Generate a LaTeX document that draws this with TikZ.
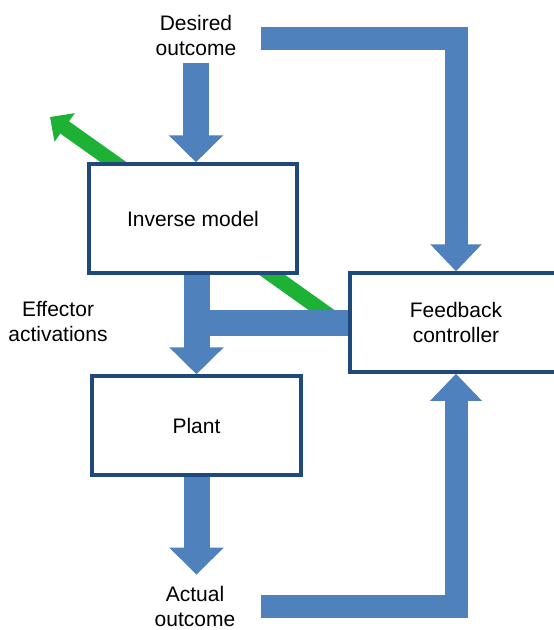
\documentclass[tikz,border=0pt]{standalone}
\usepackage{fontspec}
\setmainfont{Liberation Sans}
\usetikzlibrary{arrows.meta,positioning,calc}
\definecolor{arrowblue}{HTML}{4F81BD}
\definecolor{boxblue}{HTML}{1F497D}
\definecolor{motorgreen}{HTML}{1DB236}
\pgfdeclarelayer{back}
\pgfdeclarelayer{flows}
\pgfsetlayers{back,flows,main}
\tikzset{block/.style={draw=boxblue,fill=white,line width=3.5pt,
  font=\fontsize{21}{25}\selectfont,align=center},
  txt/.style={inner sep=0pt,align=center,font=\fontsize{21}{25}\selectfont},
  fat/.style={draw=arrowblue,line width=26pt,-{Triangle[length=27pt,width=53pt]}},
  loop/.style={draw=arrowblue,line width=23pt,-{Triangle[length=27pt,width=50pt]}},
  band/.style={draw=arrowblue,line width=26pt},
  efference/.style={draw=motorgreen,line width=15pt,-{Triangle[length=18pt,width=34pt]}}}

\begin{document}
\begin{tikzpicture}[x=1pt,y=-1pt]
\useasboundingbox (0,0) rectangle (554,630);
\clip (0,0) rectangle (554,630);
\begin{pgfonlayer}{back}
\fill[white] (0,0) rectangle (554,630);
\end{pgfonlayer}
\node[block,minimum width=208pt,minimum height=109pt] (inv) at (193,218.5) {Inverse model};
\node[block,minimum width=209pt,minimum height=99pt] (pl) at (196.5,425.5) {Plant};
\node[block,minimum width=212pt,minimum height=99pt] (fb) at (456,322.5) {Feedback\\controller};
\node[txt] (des) at (196,35) {Desired\\outcome};
\node[txt] (act) at (195,606) {Actual\\outcome};
\node[txt] (eff) at (58,321) {Effector\\activations};
\coordinate (topstart) at (261,38.5);
\coordinate (botstart) at (261,606);
\coordinate (motor) at (50,117);
\begin{pgfonlayer}{flows}
\draw[efference] ([xshift=-12pt,yshift=2pt]fb.west) -- (motor);
\draw[fat] ([yshift=-8pt]des.south) -- (des.south |- inv.north);
\draw[fat] (pl.north |- inv.south) -- (pl.north);
\draw[band] (fb.west) -- ([xshift=-13pt]fb.west -| pl.north);
\draw[fat] (pl.south) -- ([yshift=11pt]act.north -| pl.south);
\draw[loop] (topstart) -| (fb.north);
\draw[loop] (botstart) -| (fb.south);
\end{pgfonlayer}
\end{tikzpicture}
\end{document}
